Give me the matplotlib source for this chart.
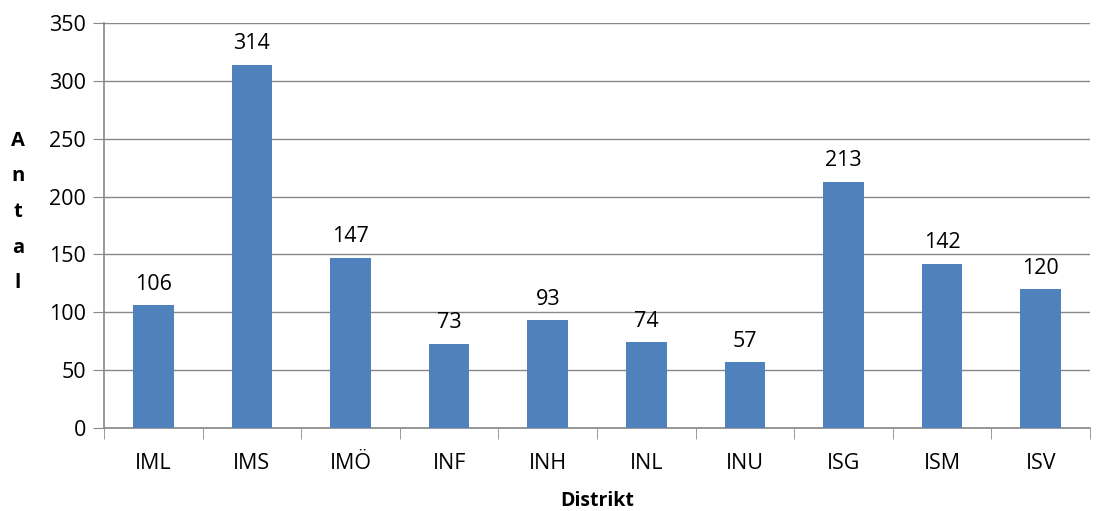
import numpy as np
import matplotlib.pyplot as plt

plt.rcParams['font.family'] = ['Open Sans', 'DejaVu Sans']

distrikt = ['IML', 'IMS', 'IMÖ', 'INF', 'INH', 'INL', 'INU', 'ISG', 'ISM', 'ISV']
antal = [106, 314, 147, 73, 93, 74, 57, 213, 142, 120]

fig = plt.figure(figsize=(11.01, 5.11), dpi=100)
ax = fig.add_axes([104 / 1101, 1 - 428 / 511, 986 / 1101, 405 / 511])

x = np.arange(len(distrikt))
bars = ax.bar(x, antal, width=0.41, color='#4F81BD', zorder=3)
for xi, v in zip(x, antal):
    ax.text(xi, v + 9, str(v), ha='center', va='bottom', fontsize=15.5)

ax.set_xlim(-0.5, len(distrikt) - 0.5)
ax.set_ylim(0, 350)
ax.set_yticks(range(0, 351, 50))
ax.tick_params(axis='y', labelsize=15.5, length=8, color='#888888', pad=5)
ax.set_xticks(x)
ax.set_xticklabels(distrikt, fontsize=15.5)
ax.set_xticks(np.arange(-0.5, len(distrikt), 1), minor=True)
ax.tick_params(axis='x', which='major', length=0, pad=18)
ax.tick_params(axis='x', which='minor', length=8, color='#888888')
ax.grid(axis='y', color='#888888', linewidth=1, zorder=0)
for s in ['top', 'right']:
    ax.spines[s].set_visible(False)
for s in ['left', 'bottom']:
    ax.spines[s].set_color('#888888')
    ax.spines[s].set_linewidth(1.2)

ax.set_xlabel('Distrikt', fontsize=14, fontweight='bold', labelpad=12)
fig.text(18 / 1101, 1 - 212 / 511, 'A\nn\nt\na\nl', ha='center', va='center',
         fontsize=14.5, fontweight='bold', linespacing=2.05)

fig.savefig('out.png', dpi=100)
